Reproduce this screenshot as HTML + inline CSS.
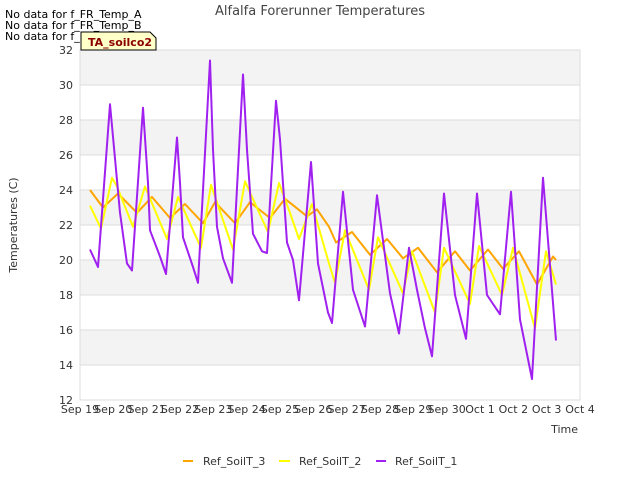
<!DOCTYPE html>
<html><head><meta charset="utf-8">
<style>
html,body{margin:0;padding:0;background:#fff;}
body{width:640px;height:480px;overflow:hidden;font-family:"DejaVu Sans","Liberation Sans",sans-serif;}
</style></head>
<body>
<svg id="chart" width="640" height="480" xmlns="http://www.w3.org/2000/svg" font-family="DejaVu Sans, Liberation Sans, sans-serif">
  <text x="320" y="15" text-anchor="middle" font-size="13" fill="#444">Alfalfa Forerunner Temperatures</text>
  <g id="plot"></g>
  <g font-size="11" fill="#000">
    <text x="5" y="18">No data for f_FR_Temp_A</text>
    <text x="5" y="29">No data for f_FR_Temp_B</text>
    <text x="5" y="40">No data for f_FR_Temp_C</text>
  </g>
  <g>
    <path d="M81,50 L81,32 L150,32 L156,38 L156,50 Z" fill="#ffffc8" stroke="#000" stroke-width="1"/>
    <text x="88" y="46" font-size="11" font-weight="bold" fill="#8b0000">TA_soilco2</text>
  </g>
  <text transform="translate(17,225) rotate(-90)" text-anchor="middle" font-size="11" fill="#333">Temperatures (C)</text>
  <text x="578" y="433" text-anchor="end" font-size="11" fill="#333">Time</text>
  <g font-size="11" fill="#333">
    <g><line x1="183" y1="461" x2="193" y2="461" stroke="#ffa500" stroke-width="2"/><text x="203" y="465">Ref_SoilT_3</text></g>
    <g><line x1="279" y1="461" x2="290" y2="461" stroke="#ffff00" stroke-width="2"/><text x="299" y="465">Ref_SoilT_2</text></g>
    <g><line x1="376" y1="461" x2="386" y2="461" stroke="#a020f0" stroke-width="2"/><text x="395" y="465">Ref_SoilT_1</text></g>
  </g>
</svg>
<script>
const xTickLabels = ["Sep 19","Sep 20","Sep 21","Sep 22","Sep 23","Sep 24","Sep 25","Sep 26","Sep 27","Sep 28","Sep 29","Sep 30","Oct 1","Oct 2","Oct 3","Oct 4"];
const yTicks = [12,14,16,18,20,22,24,26,28,30,32];
const t1 = [0.30,0.54,0.90,1.20,1.41,1.56,1.89,2.04,2.10,2.40,2.58,2.91,3.00,3.09,3.39,3.54,3.90,3.99,4.11,4.29,4.56,4.89,5.01,5.19,5.46,5.61,5.88,6.00,6.21,6.39,6.57,6.93,7.14,7.44,7.56,7.89,8.19,8.55,8.91,9.30,9.57,9.87,10.11,10.35,10.56,10.92,11.25,11.58,11.91,12.21,12.60,12.93,13.20,13.56,13.89,14.28];
const soil1 = [20.6,19.6,28.9,22.7,19.8,19.4,28.7,24.4,21.7,20.2,19.2,27,24.4,21.3,19.6,18.7,31.4,26.3,21.9,20.1,18.7,30.6,26.3,21.5,20.5,20.4,29.1,26.9,21.0,20.0,17.7,25.6,19.8,17.0,16.4,23.9,18.3,16.2,23.7,18.1,15.8,20.7,18.3,16.1,14.5,23.8,18,15.5,23.8,18,16.9,23.9,16.6,13.2,24.7,15.4];
const t2 = [0.30,0.63,0.96,1.11,1.59,1.95,2.61,2.94,3.63,3.93,4.59,4.95,5.16,5.64,5.97,6.30,6.57,6.96,7.47,7.65,7.95,8.67,8.94,9.69,9.96,10.65,10.92,11.70,11.97,12.66,12.99,13.65,13.98,14.28];
const soil2 = [23.1,21.8,24.7,24.2,21.9,24.2,21.2,23.6,20.7,24.3,20.6,24.5,23.6,21.6,24.4,22.7,21.2,23.2,19.8,18.7,21.7,18.3,21.3,18.1,20.5,17.0,20.7,17.5,20.8,18.0,20.7,16.1,20.5,18.6];
const t3 = [0.30,0.69,1.14,1.71,2.16,2.70,3.15,3.69,4.05,4.65,5.10,5.70,6.15,6.81,7.11,7.47,7.68,8.16,8.70,9.21,9.69,10.14,10.71,11.25,11.70,12.24,12.69,13.17,13.71,14.19,14.28];
const soil3 = [24.0,23.0,23.8,22.7,23.6,22.4,23.2,22.1,23.3,22.1,23.3,22.4,23.5,22.5,22.9,21.9,21.0,21.6,20.3,21.2,20.1,20.7,19.3,20.5,19.4,20.6,19.5,20.5,18.6,20.2,20.0];

const X0=80,X1=580,Y0=400,Y1=50,DMAX=15,TMIN=12,TMAX=32;
const xs = d => X0 + (d/DMAX)*(X1-X0);
const ys = v => Y0 - (v-TMIN)/(TMAX-TMIN)*(Y0-Y1);
const NS="http://www.w3.org/2000/svg";
const plot=document.getElementById('plot');
function mk(tag,attrs){const e=document.createElementNS(NS,tag);for(const k in attrs)e.setAttribute(k,attrs[k]);return e;}

for(let i=0;i<yTicks.length-1;i++){
  if(i%2===1){
    const r=mk('rect',{x:X0,y:ys(yTicks[i+1]),width:X1-X0,height:ys(yTicks[i])-ys(yTicks[i+1]),fill:'#f3f3f3'});
    
    
    plot.appendChild(r);
  }
}
yTicks.forEach(v=>{
  const l=mk('line',{x1:X0,x2:X1,y1:ys(v),y2:ys(v),stroke:'#dcdcdc','stroke-width':1});
  
  
  plot.appendChild(l);
  const t=mk('text',{x:X0-7,y:ys(v)+4,'text-anchor':'end','font-size':11,fill:'#333'});
  t.textContent=v;
  
  
  plot.appendChild(t);
});
xTickLabels.forEach((lab,i)=>{
  const t=mk('text',{x:xs(i),y:413,'text-anchor':'middle','font-size':11,fill:'#333'});
  t.textContent=lab;
  
  
  plot.appendChild(t);
});
const border=mk('rect',{x:X0,y:Y1,width:X1-X0,height:Y0-Y1,fill:'none',stroke:'#dcdcdc'});


plot.appendChild(border);

function series(ts,vs,color,name){
  const pts=ts.map((d,i)=>xs(d).toFixed(1)+','+ys(vs[i]).toFixed(1)).join(' ');
  const p=mk('polyline',{points:pts,fill:'none',stroke:color,'stroke-width':2,'stroke-linejoin':'round'});
  
  
  plot.appendChild(p);
}
series(t3,soil3,'#ffa500','line-ref-soilt-3');
series(t2,soil2,'#ffff00','line-ref-soilt-2');
series(t1,soil1,'#a020f0','line-ref-soilt-1');
</script>
</body></html>
